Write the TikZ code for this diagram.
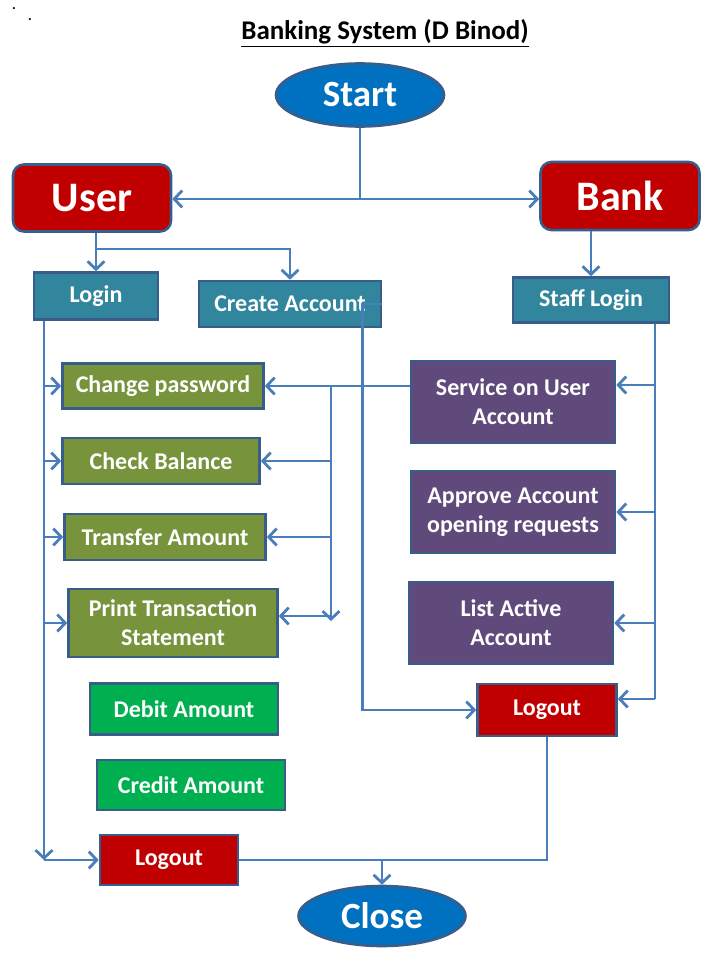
\documentclass[tikz,border=0pt]{standalone}
\usepackage{fontspec}
\setmainfont{Carlito}
\usepackage{tikz}
\usetikzlibrary{shapes, arrows.meta, calc, positioning}

\definecolor{linkblue}{HTML}{4A7EBB}
\definecolor{rimblue}{HTML}{385D8A}
\definecolor{ovalblue}{HTML}{0070C0}
\definecolor{headred}{HTML}{C00000}
\definecolor{tealbox}{HTML}{31859C}
\definecolor{olivebox}{HTML}{77933C}
\definecolor{greenbox}{HTML}{00B050}
\definecolor{purplebox}{HTML}{604A7B}

\begin{document}
\begin{tikzpicture}[x=1pt, y=-1pt, >={Straight Barb[length=8pt, width=17pt]}]
	\tikzstyle{box} = [draw=rimblue, line width=2.6pt, rectangle, text=white, align=center, inner sep=0pt, font=\fontsize{24}{29}\selectfont\bfseries]
	\tikzstyle{head} = [box, fill=headred, rounded corners=11pt, font=\fontsize{42}{48}\selectfont\bfseries]
	\tikzstyle{oval} = [box, ellipse, fill=ovalblue, font=\fontsize{37}{42}\selectfont\bfseries]
	\tikzstyle{link} = [draw=linkblue, line width=2.8pt]

	\useasboundingbox (0,0) rectangle (720,960);

	\path
		node[font=\fontsize{27}{32}\selectfont\bfseries] (title) at (385,33) {\underline{Banking System (D Binod)}}
		node[font=\fontsize{14}{16}\selectfont\bfseries] (dota) at (14,9) {.}
		node[font=\fontsize{14}{16}\selectfont\bfseries] (dotb) at (30,20) {.}

		node[oval, minimum width=168pt, minimum height=63pt] (start) at (360,95) {Start}
		node[head, minimum width=158pt, minimum height=67pt] (user) at (92,198) {User}
		node[head, minimum width=159pt, minimum height=68pt] (bank) at (620,196) {Bank}

		node[box, fill=tealbox, minimum width=124pt, minimum height=47pt] (login) at (96,296) {Login}
		node[box, fill=tealbox, minimum width=182pt, minimum height=46pt] (create) at (290,304) {Create Account}
		node[box, fill=tealbox, minimum width=156pt, minimum height=45pt] (staff) at (591,300) {Staff Login}

		node[box, fill=olivebox, minimum width=201pt, minimum height=45pt] (chpwd) at (163,386) {Change password}
		node[box, fill=olivebox, minimum width=197pt, minimum height=46pt] (chkbal) at (161,461) {Check Balance}
		node[box, fill=olivebox, minimum width=201pt, minimum height=46pt] (transfer) at (165,537) {Transfer Amount}
		node[box, fill=olivebox, minimum width=209pt, minimum height=68pt] (print) at (173,623) {Print Transaction\\Statement}
		node[box, fill=greenbox, minimum width=188pt, minimum height=51pt] (debit) at (184,709) {Debit Amount}
		node[box, fill=greenbox, minimum width=188pt, minimum height=50pt] (credit) at (191,785) {Credit Amount}
		node[box, fill=headred, minimum width=138pt, minimum height=50pt] (logouta) at (169,860) {Logout}

		node[box, fill=purplebox, minimum width=204pt, minimum height=82pt] (service) at (513,402) {Service on User\\Account}
		node[box, fill=purplebox, minimum width=204pt, minimum height=82pt] (approve) at (513,512) {Approve Account\\opening requests}
		node[box, fill=purplebox, minimum width=204pt, minimum height=82pt] (listact) at (511,623) {List Active\\Account}
		node[box, fill=headred, minimum width=139pt, minimum height=52pt] (logoutb) at (547,710) {Logout}

		node[oval, minimum width=167pt, minimum height=60pt] (close) at (382,916) {Close}
	;

	\coordinate (startjoin) at (360,199);
	\coordinate (userjoin) at (96,249);
	\coordinate (loginbot) at (44,860);
	\coordinate (staffbot) at (655,699);
	\coordinate (servjoin) at (331,386);
	\coordinate (servbot) at (331,621);
	\coordinate (closejoin) at (382,860);

	\draw[link] (start.south) -- (startjoin);
	\draw[link, ->] (startjoin) -- (startjoin -| user.east);
	\draw[link, ->] (startjoin) -- (startjoin -| bank.west);

	\draw[link, ->] (login.north |- user.south) -- (login.north);
	\draw[link, ->] (userjoin) -| (create.north);
	\draw[link, ->] (staff.north |- bank.south) -- (staff.north);

	\draw[link, ->] (login.south -| loginbot) -- (loginbot);
	\foreach \n in {chpwd, chkbal, transfer, print}
		\draw[link, ->] (loginbot |- \n.west) -- (\n.west);
	\draw[link, ->] (loginbot) -- (logouta.west);

	\draw[link, ->] ([yshift=16pt]service.west) -- (servjoin |- chpwd.east) -- (chpwd.east);
	\draw[link, ->] (servjoin) -- (servbot);
	\draw[link, ->] (servjoin |- chkbal.east) -- (chkbal.east);
	\draw[link, ->] (servjoin |- transfer.east) -- (transfer.east);
	\draw[link, ->] (servjoin |- print.east) ++(0,-7) -- ([yshift=7pt]print.east);

	\draw[link] (staff.south -| staffbot) -- (staffbot);
	\draw[link, ->] (staffbot |- service.east) ++(0,-17) -- ([yshift=17pt]service.east);
	\draw[link, ->] (staffbot |- approve.east) -- (approve.east);
	\draw[link, ->] (staffbot |- listact.east) -- (listact.east);
	\draw[link, ->] (staffbot) -- (staffbot -| logoutb.east);

	\draw[link, ->] (create.east) -- ++(-20,0) |- (logoutb.west);

	\draw[link] (logouta.east) -- (closejoin);
	\draw[link] (logoutb.south) |- (closejoin);
	\draw[link, ->] (closejoin) -- (close.north);
\end{tikzpicture}
\end{document}
